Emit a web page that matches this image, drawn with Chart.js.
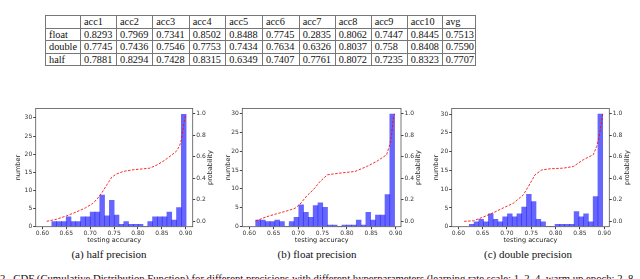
<!DOCTYPE html>
<html>
<head>
<meta charset="utf-8">
<script src="https://cdn.jsdelivr.net/npm/chart.js@4.4.0/dist/chart.umd.min.js"></script>
<style>
  html, body { margin: 0; padding: 0; background: #fff; width: 640px; height: 279px; overflow: hidden; position: relative; font-family: "Liberation Serif", serif; color: #111; }
  #tbl { position: absolute; left: 45px; top: 15px; width: 430px; border-collapse: collapse; table-layout: fixed; font-family: "Liberation Serif", serif; font-size: 10.3px; }
  #tbl td { border: 1px solid #777; height: 11.5px; padding: 0 0 0 3px; line-height: 11px; white-space: nowrap; overflow: hidden; }
  .panel { position: absolute; }
  .sub { position: absolute; top: 249px; font-size: 11px; line-height: 11px; white-space: nowrap; transform: translateX(-50%); }
  #cap { position: absolute; left: 0; top: 273px; font-size: 10.7px; line-height: 11px; white-space: nowrap; }
</style>
</head>
<body>
<table id="tbl"></table>

<div class="panel" style="left:10px;top:100px"><canvas id="halfChart" width="205" height="145"></canvas></div>
<div class="panel" style="left:220px;top:100px"><canvas id="floatChart" width="204" height="145"></canvas></div>
<div class="panel" style="left:428px;top:100px"><canvas id="doubleChart" width="204" height="145"></canvas></div>

<div class="sub" style="left:109px">(a) half precision</div>
<div class="sub" style="left:317px">(b) float precision</div>
<div class="sub" style="left:528px">(c) double precision</div>
<div id="cap">2.&nbsp; CDF (Cumulative Distribution Function) for different precisions with different hyperparameters (learning rate scale: 1, 2, 4, warm up epoch: 2, 8</div>

<script>
// table
const tableHeader = ["", "acc1", "acc2", "acc3", "acc4", "acc5", "acc6", "acc7", "acc8", "acc9", "acc10", "avg"];
const floatRow = ["float", "0.8293", "0.7969", "0.7341", "0.8502", "0.8488", "0.7745", "0.2835", "0.8062", "0.7447", "0.8445", "0.7513"];
const doubleRow = ["double", "0.7745", "0.7436", "0.7546", "0.7753", "0.7434", "0.7634", "0.6326", "0.8037", "0.758", "0.8408", "0.7590"];
const halfRow = ["half", "0.7881", "0.8294", "0.7428", "0.8315", "0.6349", "0.7407", "0.7761", "0.8072", "0.7235", "0.8323", "0.7707"];

// histograms (bin start, bin width, heights)
const halfBinStart = 0.6197, halfBinWidth = 0.01004;
const halfCounts = [1.4, 1.4, 1.4, 2.7, 1.4, 1.4, 2.7, 2.7, 4.0, 4.0, 8.7, 3.0, 7.3, 3.2, 0.65, 1.4, 0.65, 0.65, 0.65, 0, 1.4, 2.7, 2.7, 2.7, 4.0, 1.85, 5.3, 31];
const floatBinStart = 0.6131, floatBinWidth = 0.00982;
const floatCounts = [1.78, 1.78, 1.33, 1.33, 1.78, 1.33, 0, 1.33, 2.5, 5.8, 3.8, 2.5, 5.6, 6.3, 5.1, 0.45, 0.45, 0, 0.45, 0.45, 0.45, 1.78, 0.45, 3.8, 1.78, 3.1, 3.1, 8.5, 29.8];
const doubleBinStart = 0.6226, doubleBinWidth = 0.00979;
const doubleCounts = [0.62, 1.33, 1.96, 1.33, 3.4, 1.96, 1.33, 2.6, 3.4, 2.6, 3.4, 5.2, 8.6, 6.7, 1.96, 1.33, 0, 0, 0.62, 0.62, 0.62, 0.62, 4.0, 2.6, 3.4, 1.33, 8.0, 30];

// CDF curves
const halfCdfX = [0.609, 0.63, 0.65, 0.67, 0.69, 0.705, 0.715, 0.725, 0.735, 0.745, 0.755, 0.77, 0.79, 0.81, 0.825, 0.84, 0.855, 0.87, 0.88, 0.887, 0.891, 0.894, 0.897, 0.8995];
const halfCdfY = [0.0, 0.02, 0.05, 0.085, 0.125, 0.165, 0.21, 0.27, 0.34, 0.41, 0.44, 0.465, 0.48, 0.488, 0.495, 0.525, 0.565, 0.615, 0.65, 0.7, 0.76, 0.85, 0.93, 0.99];
const floatCdfX = [0.613, 0.6356, 0.656, 0.6766, 0.6937, 0.704, 0.7176, 0.731, 0.745, 0.76, 0.786, 0.8166, 0.8406, 0.861, 0.8816, 0.888, 0.8918, 0.895, 0.8975];
const floatCdfY = [0.003, 0.043, 0.07, 0.096, 0.121, 0.16, 0.235, 0.293, 0.37, 0.433, 0.449, 0.464, 0.51, 0.557, 0.62, 0.713, 0.807, 0.947, 1.0];
const doubleCdfX = [0.612, 0.631, 0.6514, 0.672, 0.6925, 0.713, 0.7336, 0.7473, 0.7576, 0.7713, 0.7884, 0.8157, 0.8363, 0.8568, 0.8774, 0.8843, 0.8897, 0.8946, 0.8967];
const doubleCdfY = [0.0, 0.005, 0.04, 0.08, 0.125, 0.168, 0.246, 0.35, 0.433, 0.478, 0.489, 0.495, 0.51, 0.573, 0.62, 0.697, 0.79, 0.931, 1.0];

// build the table
const colWidths = [35, 36, 36.3, 36.4, 36.6, 36.7, 36.7, 36, 36, 36, 35, 33.3];
const tbl = document.getElementById("tbl");
const cg = document.createElement("colgroup");
colWidths.forEach((w) => {
  const c = document.createElement("col");
  c.style.width = w + "px";
  cg.appendChild(c);
});
tbl.appendChild(cg);
[tableHeader, floatRow, doubleRow, halfRow].forEach((row) => {
  const tr = document.createElement("tr");
  row.forEach((t) => {
    const td = document.createElement("td");
    td.textContent = t;
    tr.appendChild(td);
  });
  tbl.appendChild(tr);
});

const tickFont = { family: "DejaVu Sans", size: 6 };
const titleFont = { family: "DejaVu Sans", size: 6.5 };
const tickGrid = { display: true, drawOnChartArea: false, drawTicks: true, tickLength: 2.5, color: "#444", offset: false };

// box around the plot + right-hand label reading bottom to top (like matplotlib)
const frame = {
  id: "frame",
  afterDatasetsDraw(chart) {
    const a = chart.chartArea, c = chart.ctx;
    c.save();
    c.strokeStyle = "#555";
    c.lineWidth = 0.8;
    c.strokeRect(a.left, a.top, a.right - a.left, a.bottom - a.top);
    c.restore();
  },
  afterDraw(chart, args, opts) {
    const a = chart.chartArea, c = chart.ctx;
    c.save();
    c.translate(chart.width - opts.offset, (a.top + a.bottom) / 2);
    c.rotate(-Math.PI / 2);
    c.font = "6.5px 'DejaVu Sans'";
    c.fillStyle = "#222";
    c.textAlign = "center";
    c.textBaseline = "middle";
    c.fillText("probability", 0, 0);
    c.restore();
  },
};

function drawPanel(id, g, binStart, binWidth, counts, cdfX, cdfY) {
  const bars = counts.map((c, i) => ({ x: binStart + (i + 0.5) * binWidth, y: c }));
  const line = cdfX.map((x, i) => ({ x: x, y: cdfY[i] }));

  new Chart(document.getElementById(id), {
    type: "bar",
    data: {
      datasets: [
        {
          type: "line",
          data: line,
          yAxisID: "y2",
          borderColor: "rgba(255, 0, 0, 0.85)",
          borderWidth: 1,
          borderDash: [2.5, 1.5],
          pointRadius: 0,
          tension: 0,
          fill: false,
          order: 0,
        },
        {
          type: "bar",
          data: bars,
          yAxisID: "y",
          backgroundColor: "rgba(0, 0, 255, 0.6)",
          borderWidth: 0,
          barPercentage: 1,
          categoryPercentage: 1,
          order: 1,
        },
      ],
    },
    options: {
      responsive: false,
      animation: false,
      events: [],
      layout: { padding: { top: g.padTop, left: 0, right: 0, bottom: 0 } },
      plugins: { legend: { display: false }, tooltip: { enabled: false }, frame: { offset: g.rTitle } },
      scales: {
        x: {
          type: "linear",
          min: g.xMin,
          max: g.xMax,
          offset: false,
          grid: tickGrid,
          border: { display: false },
          ticks: {
            stepSize: 0.05,
            includeBounds: false,
            autoSkip: false,
            maxRotation: 0,
            padding: 0.5,
            color: "#333",
            font: tickFont,
            callback: (v) => v.toFixed(2),
          },
          title: { display: true, text: "testing accuracy", color: "#222", font: titleFont, padding: { top: 0, bottom: g.bt } },
          afterFit: (s) => { s.height = g.xh; },
        },
        y: {
          position: "left",
          min: 0,
          max: g.yMax,
          grid: tickGrid,
          border: { display: false },
          ticks: { stepSize: 5, includeBounds: false, padding: 1, color: "#333", font: tickFont },
          title: { display: true, text: "number", color: "#222", font: titleFont, padding: { top: g.lt, bottom: 0 } },
          afterFit: (s) => { s.width = g.lw; },
        },
        y2: {
          position: "right",
          min: -0.05,
          max: 1.05,
          grid: tickGrid,
          border: { display: false },
          ticks: { stepSize: 0.2, includeBounds: false, padding: 1, color: "#333", font: tickFont, callback: (v) => v.toFixed(1) },
          title: { display: false },
          afterFit: (s) => { s.width = g.rw; },
        },
      },
    },
    plugins: [frame],
  });
}

drawPanel("halfChart", { padTop: 8.5, xh: 18.3, lw: 25.7, rw: 22.3, lt: 4.4, rTitle: 4.5, bt: 1.1, xMin: 0.586, xMax: 0.9146, yMax: 32.6 },
  halfBinStart, halfBinWidth, halfCounts, halfCdfX, halfCdfY);
drawPanel("floatChart", { padTop: 8.5, xh: 18.3, lw: 22.3, rw: 23, lt: 4.4, rTitle: 5.2, bt: 1.1, xMin: 0.5857, xMax: 0.911, yMax: 31.3 },
  floatBinStart, floatBinWidth, floatCounts, floatCdfX, floatCdfY);
drawPanel("doubleChart", { padTop: 8.5, xh: 18.3, lw: 23.7, rw: 22.7, lt: 4.1, rTitle: 4.4, bt: 1.1, xMin: 0.5864, xMax: 0.9103, yMax: 31.5 },
  doubleBinStart, doubleBinWidth, doubleCounts, doubleCdfX, doubleCdfY);
</script>
</body>
</html>
